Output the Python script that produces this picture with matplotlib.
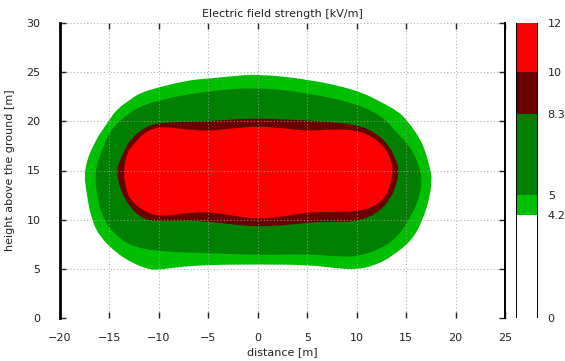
import matplotlib
matplotlib.use("Agg")
import matplotlib.pyplot as plt
from matplotlib.colors import ListedColormap, BoundaryNorm
from matplotlib.cm import ScalarMappable
from matplotlib.path import Path
from matplotlib.patches import PathPatch

# Field-strength levels (kV/m) and the colour of each band between them
levels = [0, 4.2, 5, 8.3, 10, 12]
band_colors = ["#ffffff", "#00bf00", "#007f00", "#6a0000", "#ff0000"]
level_labels = ["0", "4.2", "5", "8.3", "10", "12"]

# Iso-field outlines (x = distance [m], y = height [m])
iso_4_2_x = [0, 5, 10, 12.6, 14.2, 15.2, 16.7, 17.5, 17.6, 17.4, 16.7, 15.6, 13.6, 12.0, 10.0,
             7.6, 5.0, 0, -5, -7.9, -10, -10.9, -12.6, -14.3, -16.0, -16.8, -17.3, -17.6,
             -16.6, -15.1, -14.3, -12.9, -11.9, -9.9, -6.9, -5, -2.5]
iso_4_2_y = [24.8, 24.3, 23.2, 21.9, 21.0, 20.0, 17.8, 15.0, 14.0, 12.3, 10.0, 7.9, 6.3, 5.4, 4.9,
             5.1, 5.4, 5.45, 5.4, 5.2, 4.9, 4.9, 5.55, 6.6, 8.3, 10.0, 12.5, 15.05,
             17.8, 20.0, 21.2, 22.2, 22.9, 23.5, 24.2, 24.35, 24.6]

iso_5_x = [0, 5, 10, 12.6, 14.3, 15.3, 16.0, 16.4, 16.6, 16.4, 15.7, 14.3, 12.6, 10, 7.5, 5, 0,
           -5, -10, -12.6, -14.3, -15.6, -16.3, -16.5, -15.5, -14.6, -12.6, -10, -5]
iso_5_y = [23.45, 22.9, 21.8, 20.5, 18.6, 17.5, 16.3, 15.0, 14.0, 12.5, 10.7, 8.4, 7.1, 6.2, 6.3,
           6.5, 6.4, 6.6, 6.75, 7.25, 8.3, 10.0, 12.5, 15.05, 17.8, 19.5, 21.2, 22.2, 23.1]

iso_8_3_x = [0, 2.5, 5, 10, 12, 13.3, 14.0, 14.3, 14.0, 13.3, 12, 10, 7.5, 5, 2.5, 0, -2.5, -5,
             -7.5, -10, -11.6, -12.9, -13.9, -14.3, -13.9, -13.3, -12.9, -11.6, -10, -5, -2.5]
iso_8_3_y = [20.3, 20.2, 20.1, 19.7, 18.8, 17.5, 16.0, 15.0, 13.5, 11.9, 10.6, 9.8, 9.8, 9.7, 9.4,
             9.3, 9.5, 9.8, 9.95, 9.8, 10.05, 11.2, 13.0, 15.0, 16.1, 17.4, 18.1, 19.3, 19.9,
             20.0, 20.2]

iso_10_x = [0, 2.5, 5, 7.5, 10, 11.7, 12.3, 13.0, 13.5, 13.7, 13.4, 13.0, 12.0, 10, 7.5, 5, 2.5,
            0, -2.5, -5, -7.5, -10, -11.6, -12.9, -13.3, -13.6, -13.2, -12.6, -11.6, -10, -7.5,
            -5, -2.5]
iso_10_y = [19.5, 19.3, 19.0, 19.2, 19.1, 18.4, 17.8, 17.1, 16.0, 15.0, 13.5, 12.5, 11.4, 10.8,
            10.8, 10.75, 10.3, 10.05, 10.4, 10.8, 10.65, 10.3, 10.9, 12.0, 13.0, 15.0, 16.9,
            17.6, 18.8, 19.5, 19.2, 19.0, 19.3]

x_ticks = [-20, -15, -10, -5, 0, 5, 10, 15, 20, 25]
y_ticks = [0, 5, 10, 15, 20, 25, 30]


def smooth_closed_path(xs, ys):
    """Closed outline drawn as quadratic Bezier segments through the edge midpoints."""
    pts = list(zip(xs, ys))
    n = len(pts)
    mids = [((pts[i][0] + pts[(i + 1) % n][0]) / 2, (pts[i][1] + pts[(i + 1) % n][1]) / 2)
            for i in range(n)]
    verts = [mids[-1]]
    codes = [Path.MOVETO]
    for i in range(n):
        verts += [pts[i], mids[i]]
        codes += [Path.CURVE3, Path.CURVE3]
    verts.append(mids[-1])
    codes.append(Path.CLOSEPOLY)
    return Path(verts, codes)


W, H = 565, 361
fig = plt.figure(figsize=(W / 100, H / 100), dpi=100)
ax = fig.add_axes([60 / W, 1 - 318 / H, 445 / W, 295 / H])
cax = fig.add_axes([516 / W, 1 - 318 / H, 22 / W, 295 / H])

outlines = [(iso_4_2_x, iso_4_2_y), (iso_5_x, iso_5_y),
            (iso_8_3_x, iso_8_3_y), (iso_10_x, iso_10_y)]
for (xs, ys), col in zip(outlines, band_colors[1:]):
    ax.add_patch(PathPatch(smooth_closed_path(xs, ys), facecolor=col, lw=0, zorder=1))

ax.set_xlim(-20, 25)
ax.set_ylim(0, 30)
ax.set_xticks(x_ticks)
ax.set_yticks(y_ticks)
ax.set_axisbelow(False)
ax.grid(True, color="#a0a0a0", linestyle=(0, (1, 2)), linewidth=0.8, alpha=0.8)
ax.tick_params(direction="in", length=4, width=1.0, top=True, right=True,
               labelsize=8, colors="#222222")
ax.tick_params(axis="x", pad=11)
ax.tick_params(axis="y", pad=14)
for side in ("top", "bottom"):
    ax.spines[side].set_visible(False)
ax.spines["left"].set_linewidth(2.0)
ax.spines["right"].set_linewidth(1.4)
for side in ("left", "right"):
    ax.spines[side].set_zorder(5)

ax.set_title("Electric field strength [kV/m]", fontsize=8, color="#222222", pad=4)
ax.set_xlabel("distance [m]", fontsize=8, color="#222222", labelpad=3)
ax.set_ylabel("height above the ground [m]", fontsize=8, color="#222222")
ax.yaxis.set_label_coords(-45 / 445, 0.5)

cmap = ListedColormap(band_colors)
norm = BoundaryNorm(levels, cmap.N)
cb = fig.colorbar(ScalarMappable(norm=norm, cmap=cmap), cax=cax,
                  boundaries=levels, spacing="proportional", ticks=levels)
cb.set_ticklabels(level_labels)
cb.outline.set_visible(False)
cax.axvline(0, color="black", lw=1.4)
cax.axvline(1, color="black", lw=1.4)
cax.tick_params(length=0, labelsize=8, colors="#222222", pad=7)

fig.savefig("out.png", dpi=100)
